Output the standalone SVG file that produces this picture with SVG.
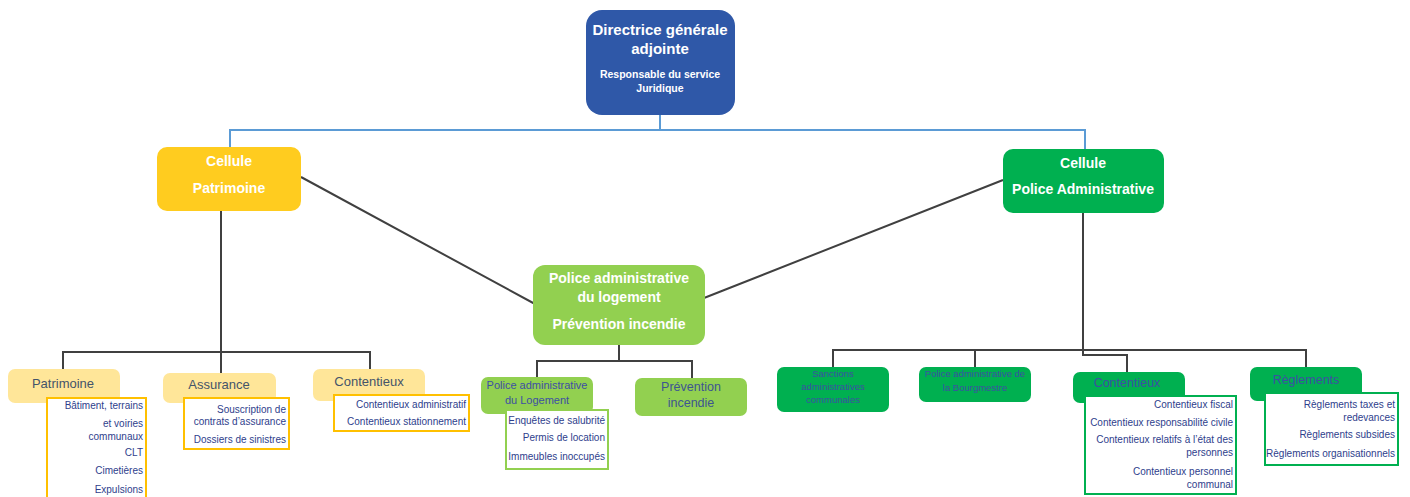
<svg xmlns="http://www.w3.org/2000/svg" width="1410" height="497" viewBox="0 0 1410 497">
<style>
text{font-family:"Liberation Sans Narrow","Liberation Sans",Arial,sans-serif}
.w{fill:#fff;font-weight:bold;text-anchor:middle}
.lbl{fill:#44546A;text-anchor:middle}
.blu{fill:#3D4FA3;text-anchor:middle}
.sub{fill:#2E3E8C;font-size:10px;text-anchor:end}
.ln{stroke:#404040;stroke-width:2;fill:none}
.bl{stroke:#5B9BD5;stroke-width:2;fill:none}
.yb{fill:#fff;stroke:#FFC000;stroke-width:2}
.gb{fill:#fff;stroke:#92D050;stroke-width:2}
.db{fill:#fff;stroke:#00B050;stroke-width:2}
</style>
<rect width="1410" height="497" fill="#fff"/>
<g id="connectors">
<path class="bl" d="M660 115V130M230 130H1085M230 129V148M1085 129V150"/>
<path class="ln" d="M301 177L535 304M1003 180L704 298"/>
<path class="ln" d="M221 211V352M63 352H370M63 351V369M221 351V373M370 351V369"/>
<path class="ln" d="M619 345V361M537 361H692M537 360V378M692 360V378"/>
<path class="ln" d="M1083 213V350M833 350H1306M833 349V367M975 349V367M1306 349V367M1083 350V355H1127V372"/>
</g>
<g id="n-dga">
<rect x="586" y="10" width="149" height="105" rx="16" fill="#2F58A8"/>
<text class="w" x="660" y="35" font-size="15">Directrice générale</text>
<text class="w" x="660" y="54" font-size="15">adjointe</text>
<text class="w" x="660" y="78" font-size="10.5">Responsable du service</text>
<text class="w" x="660" y="92" font-size="10.5">Juridique</text>
</g>
<g id="n-cell-pat">
<rect x="157" y="147" width="144" height="64" rx="10" fill="#FFCC1F"/>
<text class="w" x="229" y="166" font-size="14">Cellule</text>
<text class="w" x="229" y="193" font-size="14">Patrimoine</text>
</g>
<g id="n-cell-pol">
<rect x="1003" y="149" width="161" height="64" rx="10" fill="#00B050"/>
<text class="w" x="1083" y="168" font-size="14">Cellule</text>
<text class="w" x="1083" y="194" font-size="14">Police Administrative</text>
</g>
<g id="n-center">
<rect x="533" y="265" width="172" height="80" rx="12" fill="#92D050"/>
<text class="w" x="619" y="283" font-size="14">Police administrative</text>
<text class="w" x="619" y="302" font-size="14">du logement</text>
<text class="w" x="619" y="329" font-size="14">Prévention incendie</text>
</g>
<g id="n-patrimoine">
<rect x="8" y="369" width="112" height="34" rx="7" fill="#FFE699"/>
<text class="lbl" x="63" y="388" font-size="13">Patrimoine</text>
<rect class="yb" x="47" y="398" width="99" height="100"/>
<text class="sub" x="143" y="409">Bâtiment, terrains</text>
<text class="sub" x="143" y="427">et voiries</text>
<text class="sub" x="143" y="440">communaux</text>
<text class="sub" x="143" y="456">CLT</text>
<text class="sub" x="143" y="474">Cimetières</text>
<text class="sub" x="143" y="493">Expulsions</text>
</g>
<g id="n-assurance">
<rect x="163" y="373" width="113" height="30" rx="7" fill="#FFE699"/>
<text class="lbl" x="219" y="389" font-size="13">Assurance</text>
<rect class="yb" x="184" y="398" width="105" height="51"/>
<text class="sub" x="286" y="413">Souscription de</text>
<text class="sub" x="286" y="425">contrats d’assurance</text>
<text class="sub" x="286" y="443">Dossiers de sinistres</text>
</g>
<g id="n-contentieux-l">
<rect x="313" y="369" width="112" height="32" rx="7" fill="#FFE699"/>
<text class="lbl" x="369" y="386" font-size="13">Contentieux</text>
<rect class="yb" x="334" y="395" width="135" height="36"/>
<text class="sub" x="466" y="408">Contentieux administratif</text>
<text class="sub" x="466" y="425">Contentieux stationnement</text>
</g>
<g id="n-pal">
<rect x="481" y="377" width="112" height="37" rx="7" fill="#92D050"/>
<text class="blu" x="537" y="389" font-size="11">Police administrative</text>
<text class="blu" x="537" y="404" font-size="11">du Logement</text>
<rect class="gb" x="506" y="410" width="102" height="59"/>
<text class="sub" x="605" y="424">Enquêtes de salubrité</text>
<text class="sub" x="605" y="441">Permis de location</text>
<text class="sub" x="605" y="460">Immeubles inoccupés</text>
</g>
<g id="n-prev">
<rect x="635" y="378" width="112" height="38" rx="7" fill="#92D050"/>
<text class="lbl" x="691" y="391" font-size="12.5" style="fill:#3D5590">Prévention</text>
<text class="lbl" x="691" y="407" font-size="12.5" style="fill:#3D5590">incendie</text>
</g>
<g id="n-sanctions">
<rect x="777" y="367" width="112" height="45" rx="7" fill="#00B050"/>
<text class="blu" x="833" y="377" font-size="9.5">Sanctions</text>
<text class="blu" x="833" y="390" font-size="9.5">administratives</text>
<text class="blu" x="833" y="403" font-size="9.5">communales</text>
</g>
<g id="n-bourg">
<rect x="919" y="367" width="112" height="35" rx="7" fill="#00B050"/>
<text class="blu" x="975" y="377" font-size="9.5">Police administrative de</text>
<text class="blu" x="975" y="391" font-size="9.5">la Bourgmestre</text>
</g>
<g id="n-contentieux-r">
<rect x="1073" y="372" width="112" height="31" rx="7" fill="#00B050"/>
<text class="blu" x="1127" y="387" font-size="12.5">Contentieux</text>
<rect class="db" x="1085" y="396" width="151" height="98"/>
<text class="sub" x="1233" y="408">Contentieux fiscal</text>
<text class="sub" x="1233" y="426">Contentieux responsabilité civile</text>
<text class="sub" x="1233" y="443">Contentieux relatifs à l’état des</text>
<text class="sub" x="1233" y="456">personnes</text>
<text class="sub" x="1233" y="475">Contentieux personnel</text>
<text class="sub" x="1233" y="488">communal</text>
</g>
<g id="n-reglements">
<rect x="1250" y="367" width="112" height="34" rx="7" fill="#00B050"/>
<text class="blu" x="1306" y="384" font-size="12.5">Règlements</text>
<rect class="db" x="1265" y="393" width="133" height="72"/>
<text class="sub" x="1395" y="408">Règlements taxes et</text>
<text class="sub" x="1395" y="421">redevances</text>
<text class="sub" x="1395" y="438">Règlements subsides</text>
<text class="sub" x="1395" y="457">Règlements organisationnels</text>
</g>
</svg>
